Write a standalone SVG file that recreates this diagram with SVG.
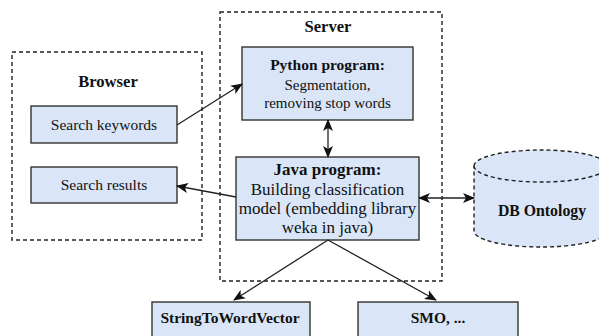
<svg xmlns="http://www.w3.org/2000/svg" width="599" height="336" viewBox="0 0 599 336" font-family="Liberation Serif, Times New Roman, serif">
  <style>
    .group { fill: none; stroke: #222; stroke-width: 1.4; stroke-dasharray: 4 3; }
    .box { fill: #dae6f8; stroke: #333; stroke-width: 1.4; }
    .db { fill: #dae6f8; stroke: #222; stroke-width: 1.4; stroke-dasharray: 4 3; }
    .edge { fill: none; stroke: #222; stroke-width: 1.3; }
    .t, .b, .h { fill: #111; text-anchor: middle; }
    .t { font-size: 15.5px; }
    .b { font-size: 15.5px; font-weight: bold; }
    .h { font-size: 16.6px; font-weight: bold; }
    .big { font-size: 17px; }
  </style>
  <defs>
    <marker id="arrow" viewBox="0 0 12 10" refX="11" refY="5" markerWidth="12" markerHeight="10" markerUnits="userSpaceOnUse" orient="auto-start-reverse">
      <path d="M0,0 L12,5 L0,10 L3,5 Z" fill="#111"/>
    </marker>
  </defs>

  <!-- container groups -->
  <g id="browser">
    <rect class="group" x="12" y="52" width="190" height="188"/>
    <text class="h" x="108" y="87" font-family="Liberation Serif, serif">Browser</text>
  </g>
  <g id="server">
    <rect class="group" x="220" y="12" width="222" height="269"/>
    <text class="h" x="328" y="32" font-family="Liberation Serif, serif">Server</text>
  </g>

  <!-- nodes -->
  <g id="search-keywords">
    <rect class="box" x="31" y="106" width="146" height="37"/>
    <text class="t" x="104" y="130" font-family="Liberation Serif, serif">Search keywords</text>
  </g>
  <g id="search-results">
    <rect class="box" x="31" y="167" width="146" height="36"/>
    <text class="t" x="104" y="190" font-family="Liberation Serif, serif">Search results</text>
  </g>
  <g id="python-program" font-family="Liberation Serif, serif">
    <rect class="box" x="242" y="47" width="171" height="73"/>
    <text class="b" x="327.5" y="70">Python program:</text>
    <text class="t" x="327.5" y="90" font-size="15px" style="font-size:15px">Segmentation,</text>
    <text class="t" x="327.5" y="108" style="font-size:15px">removing stop words</text>
  </g>
  <g id="java-program" font-family="Liberation Serif, serif">
    <rect class="box" x="236" y="157" width="183" height="83"/>
    <text class="b big" x="327.5" y="175">Java program:</text>
    <text class="t big" x="327.5" y="195">Building classification</text>
    <text class="t big" x="327.5" y="214">model (embedding library</text>
    <text class="t big" x="327.5" y="233">weka in java)</text>
  </g>
  <g id="db-ontology" font-family="Liberation Serif, serif">
    <path class="db" d="M474,166 A67,16 0 0 1 608,166 L608,231 A67,16 0 0 1 474,231 Z"/>
    <path class="db" d="M474,166 A67,16 0 0 0 608,166" fill="none"/>
    <text class="b" x="542" y="216" style="font-size:15.8px">DB Ontology</text>
  </g>
  <g id="string-to-word-vector" font-family="Liberation Serif, serif">
    <rect class="box" x="152" y="302" width="158" height="40"/>
    <text class="b" x="230" y="323">StringToWordVector</text>
  </g>
  <g id="smo" font-family="Liberation Serif, serif">
    <rect class="box" x="358" y="302" width="160" height="40"/>
    <text class="b" x="438" y="323">SMO, ...</text>
  </g>

  <!-- connectors -->
  <g id="connectors">
    <line class="edge" x1="177" y1="125" x2="242" y2="84" marker-end="url(#arrow)"/>
    <line class="edge" x1="236" y1="197" x2="177" y2="186" marker-end="url(#arrow)"/>
    <line class="edge" x1="328" y1="120" x2="328" y2="157" marker-start="url(#arrow)" marker-end="url(#arrow)"/>
    <line class="edge" x1="419" y1="198" x2="474" y2="198" marker-start="url(#arrow)" marker-end="url(#arrow)"/>
    <line class="edge" x1="328" y1="240" x2="234" y2="300" marker-end="url(#arrow)"/>
    <line class="edge" x1="328" y1="240" x2="436" y2="300" marker-end="url(#arrow)"/>
  </g>
</svg>
